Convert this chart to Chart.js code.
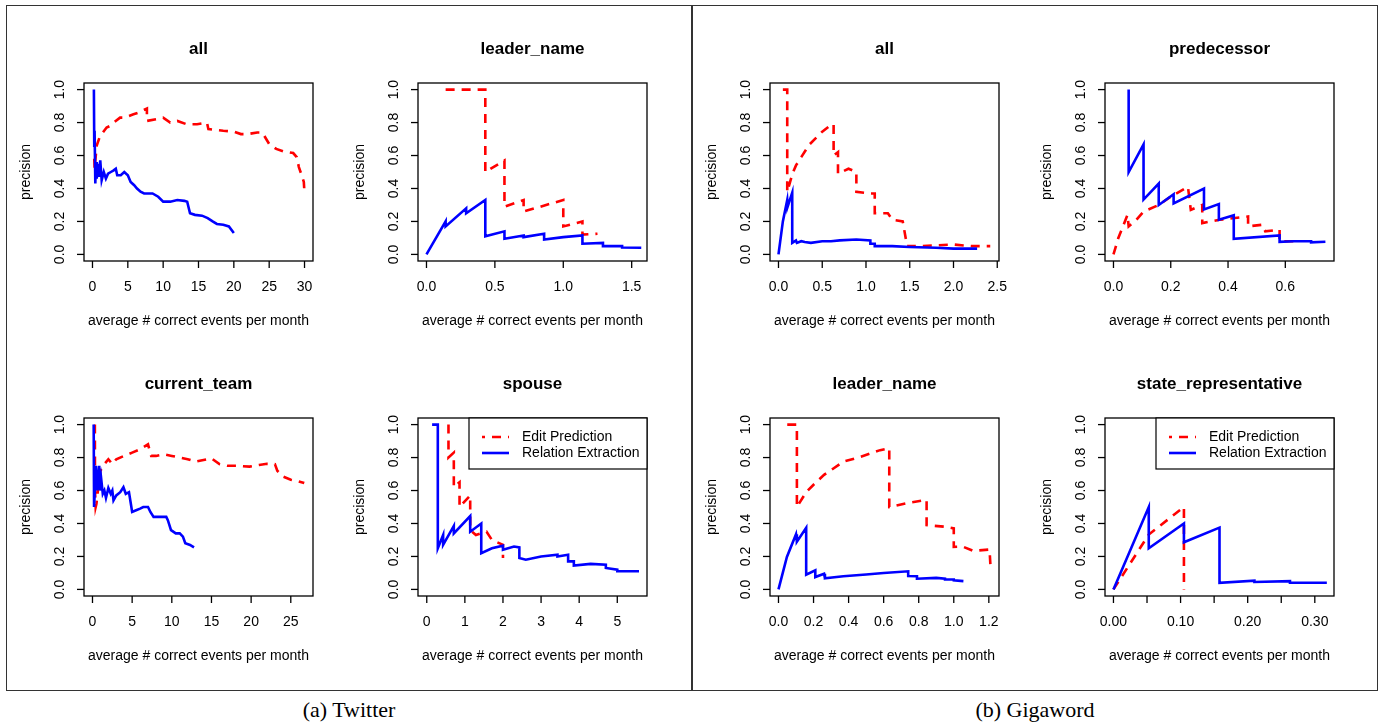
<!DOCTYPE html>
<html>
<head>
<meta charset="utf-8">
<script src="https://cdn.jsdelivr.net/npm/chart.js@4.4.1/dist/chart.umd.min.js"></script>
<style>
  body { margin: 0; background: #fff; width: 1383px; height: 725px; position: relative; overflow: hidden; }
  .panel { position: absolute; top: 5px; height: 686px; width: 687px; border: 1.5px solid #333; box-sizing: border-box; }
  canvas { position: absolute; }
  .caption { position: absolute; top: 697px; width: 686px; text-align: center; font: 22px "Liberation Serif", "Times New Roman", serif; color: #000; }
</style>
</head>
<body>
<div class="panel" style="left:6px"></div>
<div class="panel" style="left:691px"></div>
<div class="caption" style="left:6px">(a) Twitter</div>
<div class="caption" style="left:692px">(b) Gigaword</div>

<canvas id="c1"></canvas>
<canvas id="c2"></canvas>
<canvas id="c3"></canvas>
<canvas id="c4"></canvas>
<canvas id="c5"></canvas>
<canvas id="c6"></canvas>
<canvas id="c7"></canvas>
<canvas id="c8"></canvas>

<script>
const seriesNames = ['Edit Prediction', 'Relation Extraction'];
const xTitle = 'average # correct events per month';
const yTitle = 'precision';

const yTicks = [0, 0.2, 0.4, 0.6, 0.8, 1.0];
const yTickLabels = ['0.0', '0.2', '0.4', '0.6', '0.8', '1.0'];

// Twitter: all
const twAllEdit = [[0.25,0.58],[0.3,0.52],[0.6,0.66],[1.0,0.71],[1.3,0.73],[2.0,0.77],[2.5,0.78],[3.0,0.8],[3.9,0.83],[4.5,0.83],[5.8,0.85],[6.5,0.86],[7.7,0.885],[7.7,0.81],[9,0.82],[10,0.83],[11,0.8],[12,0.81],[13.3,0.79],[14.8,0.79],[16.2,0.8],[16.4,0.76],[17.5,0.755],[18.5,0.75],[20,0.745],[21,0.73],[22,0.73],[23.3,0.74],[24,0.74],[24.3,0.72],[25,0.67],[26,0.64],[27,0.625],[28.4,0.615],[28.9,0.59],[29.2,0.53],[29.6,0.48],[29.9,0.44],[30,0.37]];
const twAllRel = [[0.2,1.0],[0.25,0.66],[0.3,0.75],[0.4,0.43],[0.5,0.56],[0.6,0.46],[0.75,0.55],[0.9,0.47],[1.1,0.57],[1.3,0.45],[1.6,0.5],[1.9,0.46],[2.2,0.49],[2.6,0.5],[3.0,0.51],[3.3,0.52],[3.5,0.48],[4.0,0.48],[4.5,0.5],[5.0,0.48],[5.4,0.44],[5.9,0.42],[6.3,0.4],[6.8,0.38],[7.3,0.37],[8.5,0.37],[9.3,0.35],[10.0,0.32],[11.0,0.32],[12.0,0.33],[13.0,0.325],[13.4,0.32],[13.8,0.25],[14.5,0.24],[15.5,0.235],[16.3,0.22],[17.0,0.2],[17.6,0.185],[18.5,0.18],[19.3,0.17],[20.0,0.13]];
const twAllTicks = [0, 5, 10, 15, 20, 25, 30];
const twAllTickLabels = ['0', '5', '10', '15', '20', '25', '30'];

// Twitter: leader_name
const twLeaderEdit = [[0.14,1.0],[0.43,1.0],[0.43,0.5],[0.57,0.57],[0.57,0.29],[0.71,0.33],[0.71,0.26],[1.0,0.33],[1.0,0.17],[1.14,0.2],[1.14,0.12],[1.25,0.125]];
const twLeaderRel = [[0,0],[0.14,0.2],[0.14,0.17],[0.29,0.28],[0.29,0.25],[0.43,0.33],[0.43,0.11],[0.57,0.14],[0.57,0.095],[0.71,0.115],[0.71,0.105],[0.86,0.125],[0.86,0.09],[1.0,0.105],[1.14,0.115],[1.14,0.065],[1.29,0.07],[1.29,0.05],[1.43,0.05],[1.43,0.042],[1.57,0.04]];
const twLeaderTicks = [0, 0.5, 1.0, 1.5];
const twLeaderTickLabels = ['0.0', '0.5', '1.0', '1.5'];

// Twitter: current_team
const twTeamEdit = [[0.3,1.0],[0.32,0.6],[0.4,0.5],[0.5,0.52],[0.8,0.65],[1.0,0.72],[1.5,0.76],[2.0,0.79],[2.5,0.76],[3.0,0.79],[4.0,0.81],[5.0,0.83],[6.0,0.85],[7.0,0.88],[7.4,0.81],[8.0,0.81],[9.0,0.82],[10.0,0.81],[11.0,0.8],[12.0,0.79],[13.0,0.775],[14.0,0.785],[15.0,0.795],[16.0,0.76],[17.0,0.75],[18.2,0.75],[19.8,0.745],[21.0,0.755],[22.0,0.762],[23.0,0.76],[23.3,0.72],[24.0,0.685],[25.0,0.665],[26.0,0.655],[26.7,0.645]];
const twTeamRel = [[0.15,1.0],[0.2,0.5],[0.45,0.75],[0.6,0.6],[0.85,0.75],[0.95,0.6],[1.1,0.67],[1.3,0.58],[1.5,0.6],[1.7,0.555],[2.0,0.615],[2.3,0.58],[2.5,0.6],[2.65,0.54],[3.0,0.57],[3.5,0.59],[3.9,0.62],[4.2,0.58],[4.6,0.59],[4.8,0.53],[5.0,0.47],[5.5,0.48],[6.0,0.49],[6.4,0.5],[7.0,0.5],[7.3,0.47],[7.7,0.44],[8.5,0.44],[9.3,0.44],[9.5,0.42],[9.9,0.36],[10.5,0.34],[11.0,0.34],[11.4,0.32],[11.7,0.28],[12.3,0.27],[12.8,0.255]];
const twTeamTicks = [0, 5, 10, 15, 20, 25];
const twTeamTickLabels = ['0', '5', '10', '15', '20', '25'];

// Twitter: spouse
const twSpouseEdit = [[0.57,1.0],[0.57,0.8],[0.71,0.83],[0.71,0.62],[0.86,0.65],[0.86,0.5],[1.14,0.57],[1.14,0.36],[1.29,0.33],[1.57,0.35],[1.71,0.3],[2.0,0.27],[2.0,0.19]];
const twSpouseRel = [[0.14,1.0],[0.29,1.0],[0.29,0.25],[0.43,0.33],[0.43,0.27],[0.71,0.385],[0.71,0.34],[1.14,0.445],[1.14,0.35],[1.43,0.4],[1.43,0.22],[1.71,0.25],[2.0,0.265],[2.0,0.24],[2.29,0.26],[2.43,0.255],[2.43,0.19],[2.6,0.18],[3.0,0.2],[3.43,0.21],[3.43,0.2],[3.71,0.21],[3.71,0.17],[3.86,0.17],[3.86,0.145],[4.3,0.155],[4.7,0.15],[4.7,0.13],[5.0,0.12],[5.0,0.11],[5.57,0.11]];
const twSpouseTicks = [0, 1, 2, 3, 4, 5];
const twSpouseTickLabels = ['0', '1', '2', '3', '4', '5'];

// Gigaword: all
const gwAllEdit = [[0.05,1.0],[0.1,1.0],[0.1,0.38],[0.16,0.49],[0.2,0.54],[0.26,0.59],[0.35,0.665],[0.5,0.745],[0.6,0.785],[0.63,0.79],[0.63,0.6],[0.68,0.62],[0.68,0.49],[0.8,0.52],[0.89,0.5],[0.89,0.38],[1.05,0.37],[1.1,0.37],[1.1,0.25],[1.25,0.25],[1.3,0.21],[1.42,0.2],[1.47,0.05],[1.6,0.05],[1.8,0.055],[2.0,0.06],[2.2,0.05],[2.42,0.05]];
const gwAllRel = [[0,0],[0.05,0.2],[0.1,0.33],[0.105,0.29],[0.157,0.375],[0.157,0.07],[0.2,0.085],[0.21,0.07],[0.26,0.08],[0.3,0.075],[0.37,0.07],[0.5,0.08],[0.6,0.08],[0.7,0.085],[0.89,0.09],[1.05,0.085],[1.05,0.065],[1.1,0.065],[1.1,0.05],[1.3,0.05],[1.5,0.045],[1.8,0.04],[2.0,0.035],[2.27,0.035]];
const gwAllTicks = [0, 0.5, 1.0, 1.5, 2.0, 2.5];
const gwAllTickLabels = ['0.0', '0.5', '1.0', '1.5', '2.0', '2.5'];

// Gigaword: predecessor
const gwPredEdit = [[0,0],[0.017,0.1],[0.049,0.24],[0.053,0.17],[0.08,0.21],[0.105,0.26],[0.158,0.3],[0.2,0.35],[0.26,0.41],[0.27,0.27],[0.31,0.3],[0.31,0.19],[0.37,0.21],[0.47,0.23],[0.47,0.17],[0.52,0.18],[0.53,0.14],[0.58,0.15],[0.58,0.08],[0.63,0.08]];
const gwPredRel = [[0.053,1.0],[0.053,0.5],[0.105,0.667],[0.105,0.333],[0.158,0.43],[0.158,0.3],[0.21,0.365],[0.21,0.31],[0.316,0.4],[0.316,0.273],[0.368,0.305],[0.368,0.21],[0.42,0.237],[0.42,0.095],[0.58,0.115],[0.58,0.076],[0.63,0.08],[0.69,0.08],[0.69,0.073],[0.74,0.077]];
const gwPredTicks = [0, 0.2, 0.4, 0.6];
const gwPredTickLabels = ['0.0', '0.2', '0.4', '0.6'];

// Gigaword: leader_name
const gwLeaderEdit = [[0.05,1.0],[0.105,1.0],[0.105,0.5],[0.158,0.59],[0.2,0.635],[0.26,0.695],[0.37,0.775],[0.47,0.805],[0.58,0.845],[0.632,0.857],[0.632,0.5],[0.74,0.525],[0.845,0.543],[0.845,0.39],[0.95,0.38],[1.0,0.37],[1.0,0.258],[1.05,0.26],[1.11,0.234],[1.204,0.242],[1.21,0.13]];
const gwLeaderRel = [[0,0],[0.048,0.197],[0.1,0.335],[0.105,0.289],[0.158,0.374],[0.158,0.089],[0.21,0.116],[0.21,0.075],[0.26,0.095],[0.265,0.068],[0.37,0.08],[0.5,0.09],[0.6,0.1],[0.74,0.11],[0.74,0.081],[0.79,0.08],[0.79,0.065],[0.9,0.07],[0.95,0.065],[0.95,0.06],[1.0,0.06],[1.0,0.055],[1.055,0.05]];
const gwLeaderTicks = [0, 0.2, 0.4, 0.6, 0.8, 1.0, 1.2];
const gwLeaderTickLabels = ['0.0', '0.2', '0.4', '0.6', '0.8', '1.0', '1.2'];

// Gigaword: state_representative
const gwStateEdit = [[0,0],[0.0526,0.333],[0.105,0.5],[0.105,0.0]];
const gwStateRel = [[0,0],[0.0526,0.5],[0.0526,0.25],[0.105,0.4],[0.105,0.286],[0.158,0.375],[0.158,0.04],[0.21,0.053],[0.21,0.045],[0.263,0.05],[0.263,0.04],[0.316,0.04],[0.316,0.033]];
const gwStateTicks = [0, 0.05, 0.1, 0.15, 0.2, 0.25, 0.3];
const gwStateTickLabels = ['0.00', '', '0.10', '', '0.20', '', '0.30'];

const FONT = '"Liberation Sans", Arial, Helvetica, sans-serif';

// R-like frame, ticks, titles and legend drawn from the chart's own scales
const rStyle = {
    id: 'rStyle',
    afterDraw(chart, args, o) {
        const { ctx, chartArea: a, scales: { x, y } } = chart;
        const cx = (a.left + a.right) / 2, cy = (a.top + a.bottom) / 2;
        ctx.save();
        ctx.strokeStyle = '#000';
        ctx.fillStyle = '#000';
        ctx.lineWidth = 1.3;
        ctx.strokeRect(a.left, a.top, a.right - a.left, a.bottom - a.top);

        ctx.font = '14px ' + FONT;
        ctx.textAlign = 'center';
        ctx.textBaseline = 'middle';
        o.xTicks.forEach((v, i) => {
            const px = x.getPixelForValue(v);
            ctx.beginPath(); ctx.moveTo(px, a.bottom); ctx.lineTo(px, a.bottom + 7); ctx.stroke();
            if (o.xLabels[i]) ctx.fillText(o.xLabels[i], px, a.bottom + 26);
        });
        yTicks.forEach((v, i) => {
            const py = y.getPixelForValue(v);
            ctx.beginPath(); ctx.moveTo(a.left - 7, py); ctx.lineTo(a.left, py); ctx.stroke();
            ctx.save();
            ctx.translate(a.left - 24, py);
            ctx.rotate(-Math.PI / 2);
            ctx.fillText(yTickLabels[i], 0, 0);
            ctx.restore();
        });
        ctx.fillText(xTitle, cx, a.bottom + 60);
        ctx.save();
        ctx.translate(a.left - 58, cy);
        ctx.rotate(-Math.PI / 2);
        ctx.fillText(yTitle, 0, 0);
        ctx.restore();

        ctx.font = 'bold 17px ' + FONT;
        ctx.fillText(o.title, cx, a.top - 34);

        if (o.legend) {
            const lw = 178, lh = 51, lx = a.right - lw, ly = a.top;
            ctx.fillStyle = '#fff';
            ctx.fillRect(lx, ly, lw, lh);
            ctx.lineWidth = 1.2;
            ctx.strokeRect(lx, ly, lw, lh);
            ctx.font = '14px ' + FONT;
            ctx.textAlign = 'left';
            chart.data.datasets.forEach((ds, i) => {
                const ry = ly + 19 + i * 16;
                ctx.strokeStyle = ds.borderColor;
                ctx.lineWidth = ds.borderWidth;
                ctx.setLineDash(ds.borderDash || []);
                ctx.lineDashOffset = 6;
                ctx.beginPath(); ctx.moveTo(lx + 13, ry); ctx.lineTo(lx + 40, ry); ctx.stroke();
                ctx.setLineDash([]);
                ctx.fillStyle = '#000';
                ctx.fillText(ds.label, lx + 53, ry);
            });
        }
        ctx.restore();
    }
};

const pts = arr => arr.map(p => ({ x: p[0], y: p[1] }));

function makePanel(id, box, xRange, edit, rel, xTicks, xLabels, title, legend) {
    const [L, T, R, B] = box;
    const canvas = document.getElementById(id);
    const w = R - L + 100, h = B - T + 140;
    canvas.width = w; canvas.height = h;
    canvas.style.left = (L - 80) + 'px';
    canvas.style.top = (T - 60) + 'px';
    canvas.style.width = w + 'px';
    canvas.style.height = h + 'px';
    return new Chart(canvas.getContext('2d'), {
        type: 'line',
        data: {
            datasets: [{
                label: seriesNames[0],
                data: pts(edit),
                borderColor: '#ff0000',
                borderWidth: 2.6,
                borderDash: [9, 7],
                pointRadius: 0,
                tension: 0,
                order: 1
            }, {
                label: seriesNames[1],
                data: pts(rel),
                borderColor: '#0000ff',
                borderWidth: 2.6,
                pointRadius: 0,
                tension: 0,
                order: 0
            }]
        },
        options: {
            responsive: false,
            animation: false,
            devicePixelRatio: 1,
            layout: { padding: { left: 80, top: 60, right: 20, bottom: 80 } },
            plugins: {
                legend: { display: false },
                tooltip: { enabled: false },
                title: { display: false },
                rStyle: { xTicks, xLabels, title, legend }
            },
            scales: {
                x: { type: 'linear', min: xRange[0], max: xRange[1], display: false },
                y: { type: 'linear', min: -0.04, max: 1.04, display: false }
            }
        },
        plugins: [rStyle]
    });
}

makePanel('c1', [84, 83, 313, 261], [-1.2, 31.2], twAllEdit, twAllRel, twAllTicks, twAllTickLabels, 'all', false);
makePanel('c2', [418, 83, 647, 261], [-0.062, 1.612], twLeaderEdit, twLeaderRel, twLeaderTicks, twLeaderTickLabels, 'leader_name', false);
makePanel('c3', [84, 418, 313, 596], [-1.07, 27.8], twTeamEdit, twTeamRel, twTeamTicks, twTeamTickLabels, 'current_team', false);
makePanel('c4', [418, 418, 647, 596], [-0.23, 5.78], twSpouseEdit, twSpouseRel, twSpouseTicks, twSpouseTickLabels, 'spouse', true);
makePanel('c5', [770, 83, 999, 261], [-0.097, 2.52], gwAllEdit, gwAllRel, gwAllTicks, gwAllTickLabels, 'all', false);
makePanel('c6', [1105, 83, 1334, 261], [-0.0296, 0.77], gwPredEdit, gwPredRel, gwPredTicks, gwPredTickLabels, 'predecessor', false);
makePanel('c7', [770, 418, 999, 596], [-0.0484, 1.258], gwLeaderEdit, gwLeaderRel, gwLeaderTicks, gwLeaderTickLabels, 'leader_name', false);
makePanel('c8', [1105, 418, 1334, 596], [-0.0126, 0.3286], gwStateEdit, gwStateRel, gwStateTicks, gwStateTickLabels, 'state_representative', true);
</script>
</body>
</html>
